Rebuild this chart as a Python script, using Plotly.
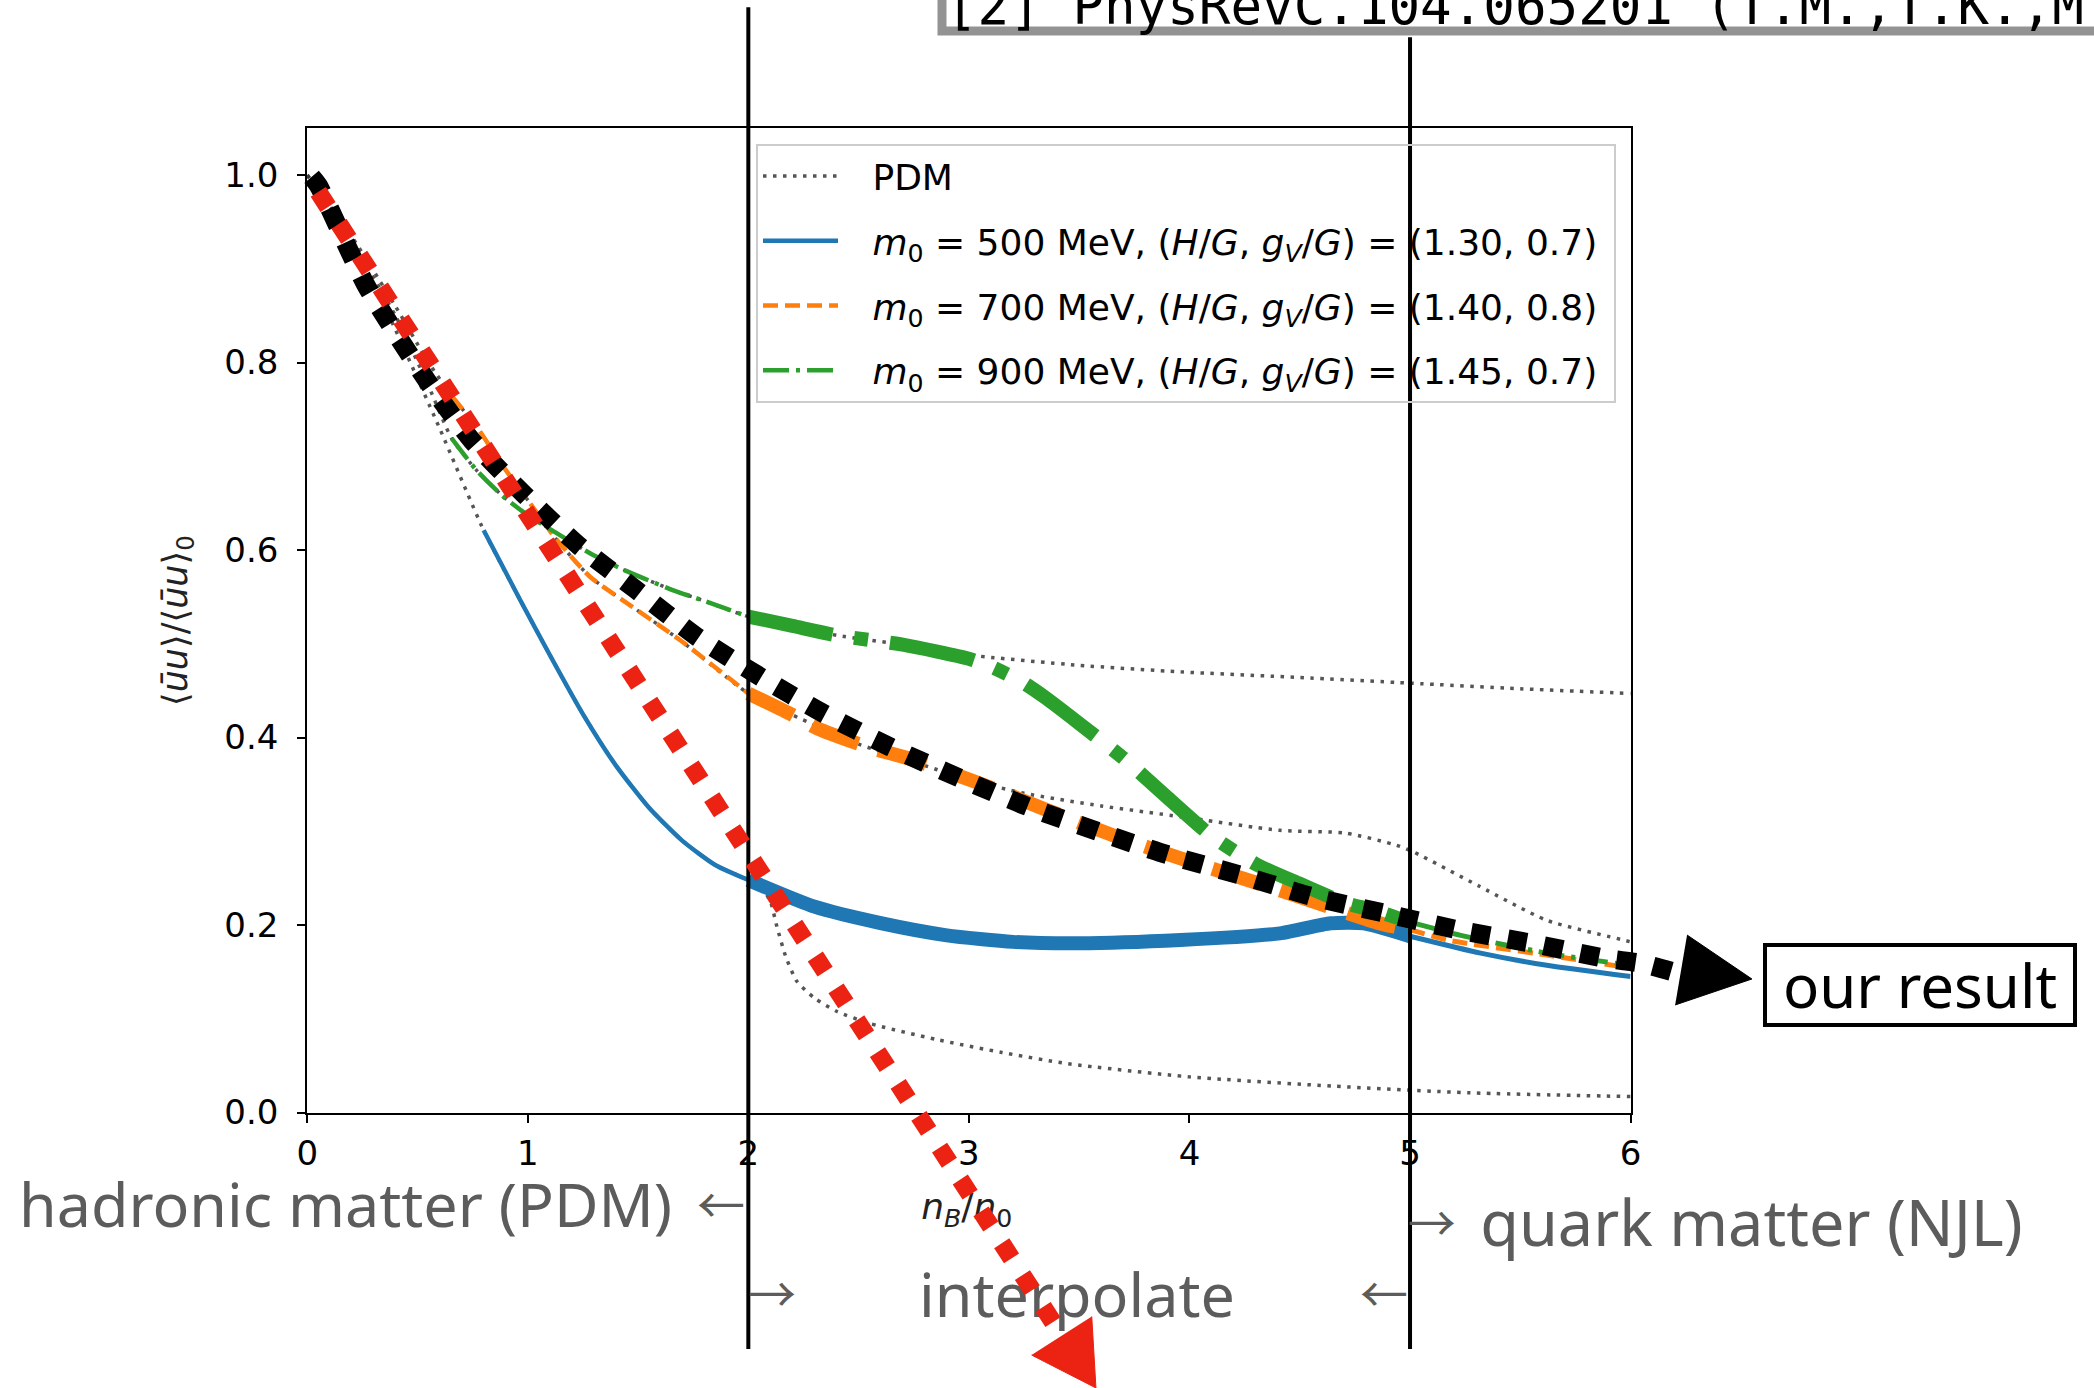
import numpy as np
import plotly.graph_objects as go

# ------------------------------------------------------------------ data
# PDM (dotted) curves
pdm500_x = [0.0, 0.2, 0.4, 0.6, 0.8, 0.965, 1.1, 1.25, 1.4, 1.55, 1.7, 1.85, 2.0, 2.06, 2.1, 2.13,
            2.17, 2.22, 2.3, 2.4, 2.55, 2.85, 3.15, 3.45, 4.0, 4.66, 5.27, 6.0]
pdm500_y = [1.0, 0.933, 0.835, 0.73, 0.621, 0.547, 0.488, 0.425, 0.37, 0.325, 0.29, 0.264, 0.248,
            0.24, 0.225, 0.198, 0.166, 0.14, 0.122, 0.108, 0.095, 0.078, 0.064, 0.052, 0.038, 0.028,
            0.021, 0.017]

pdm700_x = [0.0, 0.2, 0.4, 0.55, 0.66, 0.768, 0.889, 1.01, 1.131, 1.282, 1.433, 1.69, 2.0, 2.2,
            2.5, 2.8, 3.0, 3.25, 3.6, 3.96, 4.41, 4.71, 4.94, 5.015, 5.317, 5.62, 5.967, 6.0]
pdm700_y = [1.0, 0.935, 0.86, 0.80, 0.763, 0.7315, 0.689, 0.65, 0.611, 0.5715, 0.546, 0.504, 0.447,
            0.424, 0.393, 0.37, 0.355, 0.3405, 0.327, 0.3155, 0.301, 0.298, 0.285, 0.278, 0.241,
            0.205, 0.184, 0.182]

pdm900_x = [0.0, 0.2, 0.4, 0.55, 0.655, 0.768, 0.889, 1.01, 1.131, 1.282, 1.433, 1.66, 1.766, 2.0,
            2.2, 2.4, 2.7, 3.0, 3.5, 3.96, 4.5, 5.0, 5.5, 6.0]
pdm900_y = [1.0, 0.93, 0.85, 0.775, 0.719, 0.685, 0.657, 0.6355, 0.618, 0.5965, 0.579, 0.557,
            0.5485, 0.529, 0.519, 0.509, 0.499, 0.488, 0.477, 0.470, 0.464, 0.458, 0.452, 0.447]

# PDM -> interpolation -> NJL curves
m500_x = [0.8, 0.965, 1.1, 1.25, 1.4, 1.55, 1.7, 1.85, 2.0, 2.3, 2.6, 2.9, 3.2, 3.5, 3.96, 4.41,
          4.64, 4.79, 5.0, 5.32, 5.62, 6.0]
m500_y = [0.621, 0.547, 0.488, 0.425, 0.37, 0.325, 0.29, 0.264, 0.248, 0.2195, 0.202, 0.189,
          0.182, 0.1805, 0.184, 0.191, 0.2018, 0.2018, 0.188, 0.170, 0.157, 0.145]

m700_x = [0.66, 0.768, 0.889, 1.01, 1.131, 1.282, 1.433, 1.69, 2.0, 2.2, 2.31, 2.54, 2.75, 3.05,
          3.35, 3.65, 3.96, 4.41, 4.86, 5.0, 5.17, 5.62, 6.0]
m700_y = [0.763, 0.7315, 0.689, 0.65, 0.611, 0.5715, 0.546, 0.504, 0.447, 0.424, 0.410, 0.390,
          0.376, 0.351, 0.323, 0.296, 0.271, 0.237, 0.202, 0.195, 0.184, 0.168, 0.154]

m900_x = [0.655, 0.768, 0.889, 1.01, 1.131, 1.282, 1.433, 1.66, 1.766, 2.0, 2.2, 2.4, 2.7, 3.0,
          3.1, 3.25, 3.35, 3.5, 3.7, 3.9, 4.1, 4.3, 4.5, 4.7, 4.86, 5.0, 5.23, 5.62, 6.0]
m900_y = [0.719, 0.685, 0.657, 0.6355, 0.618, 0.5965, 0.579, 0.557, 0.5485, 0.529, 0.519, 0.509,
          0.499, 0.484, 0.4756, 0.458, 0.442, 0.415, 0.378, 0.336, 0.295, 0.265, 0.244, 0.224,
          0.214, 0.203, 0.189, 0.170, 0.157]

# hand-drawn overlay: "our result" (black) and naive extrapolation (red)
ours_x = [0.02, 0.05, 0.27, 0.542, 0.746, 0.98, 1.229, 1.494, 1.766, 2.053, 2.34, 2.642, 2.96, 3.27,
          3.587, 3.904, 4.25, 4.561, 4.886, 5.219, 5.552, 5.884, 6.05, 6.216]
ours_y = [0.998, 0.989, 0.881, 0.781, 0.717, 0.66, 0.605, 0.557, 0.5075, 0.465, 0.4258, 0.390,
          0.3565, 0.326, 0.2995, 0.2747, 0.252, 0.230, 0.2125, 0.1947, 0.1805, 0.1645, 0.159, 0.1485]
naive_x = [0.05, 1.0, 2.015, 3.0, 3.421]
naive_y = [0.982, 0.639, 0.2747, -0.085, -0.238]

# arrow heads (triangles) at the ends of the two overlay paths
ours_head_x = [6.256, 6.550, 6.202]
ours_head_y = [0.1893, 0.1424, 0.1147]
naive_head_x = [3.557, 3.576, 3.284]
naive_head_y = [-0.2176, -0.2938, -0.2587]

boundary_x = [2, 5]

x_ticks = [0, 1, 2, 3, 4, 5, 6]
y_ticks = [0.0, 0.2, 0.4, 0.6, 0.8, 1.0]
y_ticktext = ['0.0', '0.2', '0.4', '0.6', '0.8', '1.0']

GAP = '\u2002\u00a0'
legend_names = [
    GAP + "<i>m</i><sub>0</sub> = 500 MeV, (<i>H</i>/<i>G</i>, <i>g</i><sub><i>V</i></sub>/<i>G</i>) = (1.30, 0.7)\u00a0",
    GAP + "<i>m</i><sub>0</sub> = 700 MeV, (<i>H</i>/<i>G</i>, <i>g</i><sub><i>V</i></sub>/<i>G</i>) = (1.40, 0.8)\u00a0",
    GAP + "<i>m</i><sub>0</sub> = 900 MeV, (<i>H</i>/<i>G</i>, <i>g</i><sub><i>V</i></sub>/<i>G</i>) = (1.45, 0.7)\u00a0",
]

# ------------------------------------------------------------------ geometry
W, H = 2094, 1388
PX_L, PX_R = 307.2, 1630.6      # pixel of x=0 and x=6
PX_Y0, PX_Y1 = 1112.5, 175.0    # pixel of y=0 and y=1
XMIN, XMAX, YMIN, YMAX = 0, 6, 0, 1.05
sx = (PX_R - PX_L) / (XMAX - XMIN)
sy = (PX_Y0 - PX_Y1)
px_top = PX_Y0 - YMAX * sy
dom_x = [PX_L / W, PX_R / W]
dom_y = [(H - PX_Y0) / H, (H - px_top) / H]
ov_x = [XMIN - PX_L / sx, XMIN + (W - PX_L) / sx]
ov_y = [(PX_Y0 - H) / sy, PX_Y0 / sy]

fig = go.Figure()

DOT = 'rgba(55,55,55,0.85)'
for i, (px, py) in enumerate([(pdm500_x, pdm500_y), (pdm700_x, pdm700_y), (pdm900_x, pdm900_y)]):
    fig.add_trace(go.Scatter(x=px, y=py, mode='lines', name='\u2002\u00a0PDM', legendgroup='pdm',
                             showlegend=(i == 0), hoverinfo='skip',
                             line=dict(color=DOT, width=3.5, dash='3.5px,6.5px', shape='spline',
                                       smoothing=0.6)))

models = [
    (m500_x, m500_y, '#1f77b4', 'solid', 'solid'),
    (m700_x, m700_y, '#ff7f0e', '15px,7px', '50px,21px'),
    (m900_x, m900_y, '#2ca02c', '26px,7px,4px,7px', '86px,22px,14px,22px'),
]
for (mx, my, col, dthin, dthick), nm in zip(models, legend_names):
    x = np.array(mx)
    y = np.array(my)
    segs = [(x <= 2, 4.5, dthin, True), ((x >= 2) & (x <= 5), 14, dthick, False),
            (x >= 5, 5, dthin, False)]
    for mask, lw, dd, sl in segs:
        fig.add_trace(go.Scatter(x=x[mask], y=y[mask], mode='lines', name=nm, legendgroup=nm,
                                 showlegend=sl, hoverinfo='skip',
                                 line=dict(color=col, width=lw, dash=dd, shape='spline', smoothing=0.6)))

ov = dict(xaxis='x2', yaxis='y2', showlegend=False, hoverinfo='skip')

# region boundaries (drawn over the curves)
for bx, ytop in zip(boundary_x, [1.179, 1.147]):
    fig.add_trace(go.Scatter(x=[bx, bx], y=[-0.2523, ytop], mode='lines',
                             line=dict(color='black', width=4), **ov))

GRAY = '#5c5c5c'
words = [('hadronic matter (PDM)', 0.174, -0.106, 61),
         ('interpolate', 3.490, -0.2015, 61),
         ('quark matter (NJL)', 6.548, -0.1255, 63)]
for txt, wx, wy, fs in words:
    fig.add_trace(go.Scatter(x=[wx], y=[wy], text=[txt], mode='text', textposition='middle center',
                             textfont=dict(family='Noto Sans', size=fs, color=GRAY), **ov))
arrows = [('←', 1.876, -0.105), ('→', 2.107, -0.2005), ('←', 4.882, -0.2005), ('→', 5.099, -0.1245)]
fig.add_trace(go.Scatter(x=[a[1] for a in arrows], y=[a[2] for a in arrows], text=[a[0] for a in arrows],
                         mode='text', textposition='middle center',
                         textfont=dict(family='Noto Sans CJK JP', size=48, color=GRAY), **ov))
fig.add_trace(go.Scatter(x=[2.99], y=[-0.104],
                         text=['<i>n</i><sub><i>B</i></sub>/<i>n</i><sub>0</sub>'],
                         mode='text', textposition='middle center',
                         textfont=dict(family='DejaVu Sans', size=36, color='#222222'), **ov))

# overlay paths
fig.add_trace(go.Scatter(x=ours_x, y=ours_y, mode='lines',
                         line=dict(color='black', width=19, dash='19px,18px', shape='spline', smoothing=0.6), **ov))
fig.add_trace(go.Scatter(x=ours_head_x, y=ours_head_y, mode='lines', fill='toself',
                         fillcolor='black', line=dict(color='black', width=1), **ov))
fig.add_trace(go.Scatter(x=naive_x, y=naive_y, mode='lines',
                         line=dict(color='#ec2212', width=18, dash='18px,20px'), **ov))
fig.add_trace(go.Scatter(x=naive_head_x, y=naive_head_y, mode='lines', fill='toself',
                         fillcolor='#ec2212', line=dict(color='#ec2212', width=1), **ov))

axis_common = dict(showline=True, mirror=True, linecolor='black', linewidth=2, ticks='outside',
                   ticklen=8, tickwidth=2, tickcolor='black', showgrid=False, zeroline=False,
                   automargin=False, tickfont=dict(family='DejaVu Sans', size=34, color='black'))

fig.update_layout(
    width=W, height=H, autosize=False,
    margin=dict(l=0, r=0, t=0, b=0, pad=0, autoexpand=False),
    paper_bgcolor='white', plot_bgcolor='rgba(0,0,0,0)',
    xaxis=dict(domain=dom_x, range=[XMIN, XMAX], tickvals=x_ticks, anchor='y', ticklabelstandoff=2,
               **axis_common),
    yaxis=dict(domain=dom_y, range=[YMIN, YMAX], tickvals=y_ticks, ticktext=y_ticktext, anchor='x',
               ticklabelstandoff=12, **axis_common),
    xaxis2=dict(domain=[0, 1], range=ov_x, visible=False, anchor='y2', automargin=False),
    yaxis2=dict(domain=[0, 1], range=ov_y, visible=False, anchor='x2', automargin=False),
    legend=dict(x=756 / W, y=1 - 144 / H, xanchor='left', yanchor='top',
                bgcolor='rgba(255,255,255,0)', bordercolor='#cccccc', borderwidth=2,
                font=dict(family='DejaVu Sans', size=36, color='black'),
                tracegroupgap=15, itemwidth=75),
    shapes=[dict(type='rect', xref='paper', yref='paper', x0=942 / W, x1=1.2,
                 y0=1 - 31 / H, y1=1.2, line=dict(color='#939393', width=9), fillcolor='rgba(0,0,0,0)')],
    annotations=[
        dict(text='[2] PhysRevC.104.065201 (T.M.,T.K.,M.H.)', x=944 / W, y=1 - 5 / H,
             xref='paper', yref='paper', xanchor='left', yanchor='middle', showarrow=False,
             font=dict(family='DejaVu Sans Mono', size=52.5, color='black')),
        dict(text='⟨<i>ūu</i>⟩/⟨<i>ūu</i>⟩<sub>0</sub>', x=177 / W, y=1 - 621 / H,
             xref='paper', yref='paper', xanchor='center', yanchor='middle', textangle=-90,
             showarrow=False, font=dict(family='DejaVu Sans', size=35, color='#222222')),
        dict(text='our result', x=1920 / W, y=1 - 985 / H, xref='paper', yref='paper',
             xanchor='center', yanchor='middle',
             showarrow=False, font=dict(family='Noto Sans', size=60, color='black'),
             bordercolor='black', borderwidth=4, borderpad=0, bgcolor='white', width=306, height=76),
    ],
)

fig.write_html('out.html')
